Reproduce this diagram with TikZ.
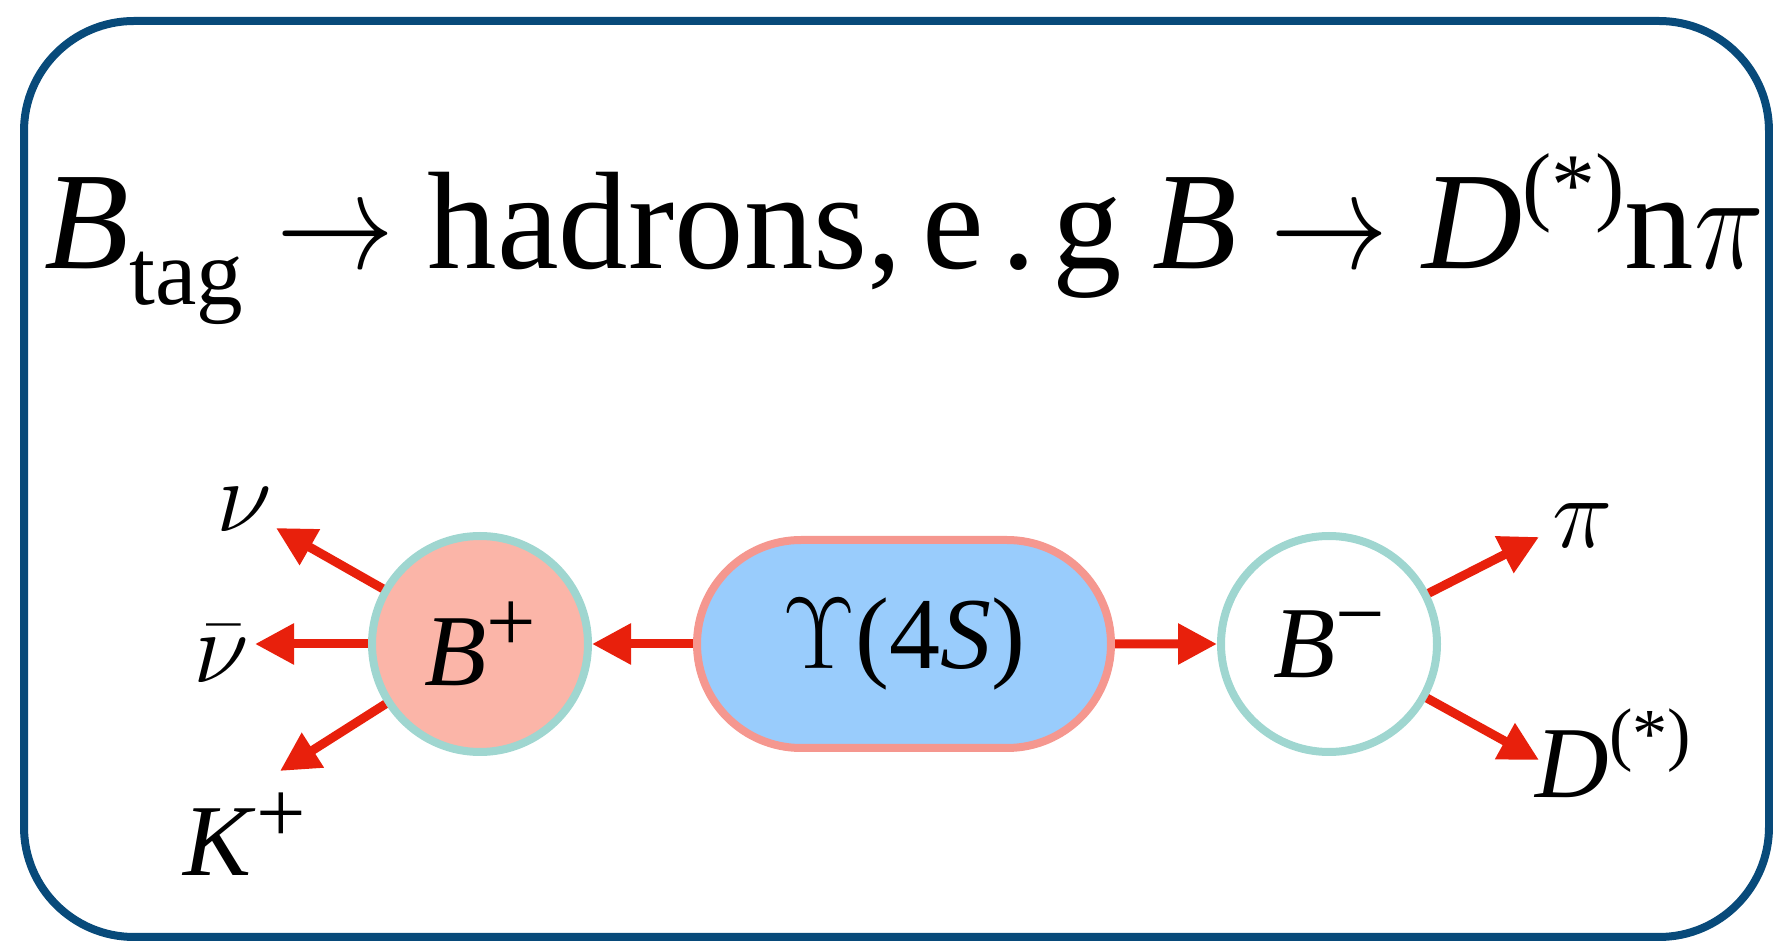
\documentclass[tikz,border=0pt]{standalone}
\usepackage{fix-cm}
\usepackage{fontspec}
\usepackage{graphicx}
\setmainfont{Liberation Serif}
\usetikzlibrary{arrows.meta,positioning,shapes.misc}
\definecolor{frameblue}{RGB}{8,74,122}
\definecolor{decayred}{RGB}{232,32,12}
\definecolor{bplusfill}{RGB}{251,181,168}
\definecolor{ring}{RGB}{159,214,208}
\definecolor{upsfill}{RGB}{153,204,252}
\definecolor{upsline}{RGB}{245,151,143}
\newcommand{\charge}[1]{\raisebox{9.5pt}{\fontsize{25}{28}\selectfont#1}}
\newcommand{\starsup}[2]{\raisebox{#1}{\fontsize{#2}{#2}\selectfont(*)}}
\newcommand{\decayto}{\hspace{0.24em}\scalebox{0.85}[1]{$\rightarrow$}\hspace{0.24em}}

\begin{document}
\begin{tikzpicture}[>=Latex,x=0.1mm,y=-0.1mm,
  decayarrow/.style={draw=decayred,line width=0.9mm,-{Triangle[length=3.9mm,width=3.9mm]}},
  meson/.style={circle,draw=ring,line width=0.8mm,minimum size=21.6mm,inner sep=0pt,font=\fontsize{29}{32}\selectfont},
  lbl/.style={inner sep=0pt,font=\fontsize{29}{32}\selectfont}]
\useasboundingbox (0,0) rectangle (1773,941);
\draw[frameblue,line width=0.8mm,rounded corners=11mm] (24,21) rectangle (1769,937);
\node[anchor=base west,inner sep=0pt,font=\fontsize{39.5}{46}\selectfont] (title) at (44,269)
  {\textit{B}\raisebox{-10pt}{\fontsize{26.5}{30}\selectfont tag}\decayto hadrons,\hspace{0.15em}e\hspace{0.12em}.\hspace{0.12em}g\hspace{0.22em}\textit{B}\decayto\textit{D}\starsup{15.5pt}{25}n\scalebox{0.85}[1]{$\pi$}};
\node[meson,fill=bplusfill] (bp) at (480,644) {\textit{B}\charge{+}};
\node[rounded rectangle,draw=upsline,fill=upsfill,line width=0.8mm,minimum width=41.4mm,
  minimum height=20.8mm,inner sep=0pt,font=\fontsize{29}{32}\selectfont] (ups) at (904,644) {$\Upsilon$(4\textit{S})};
\node[meson] (bm) at (1329,644) {\textit{B}\charge{−}};
\node[lbl] (nu) at (244,510) {$\nu$};
\node[lbl] (nub) at (221,654) {$\bar\nu$};
\node[lbl,anchor=base west] (kp) at (183,876) {\textit{K}\charge{+}};
\node[lbl] (pi) at (1583,526) {$\pi$};
\node[lbl,anchor=base west] (dst) at (1535,798) {\textit{D}\starsup{11.5pt}{20}};
\coordinate (nutip) at (276,528);
\coordinate (nubtip) at (255,644);
\coordinate (kptip) at (280,771);
\coordinate (pitip) at (1539,537);
\coordinate (dtip) at (1539,760);
\draw[decayarrow] (ups) -- (bp);
\draw[decayarrow] (ups) -- (bm);
\draw[decayarrow] (bp) -- (nutip);
\draw[decayarrow] (bp) -- (nubtip);
\draw[decayarrow] (bp) -- (kptip);
\draw[decayarrow] (bm) -- (pitip);
\draw[decayarrow] (bm) -- (dtip);
\end{tikzpicture}
\end{document}
